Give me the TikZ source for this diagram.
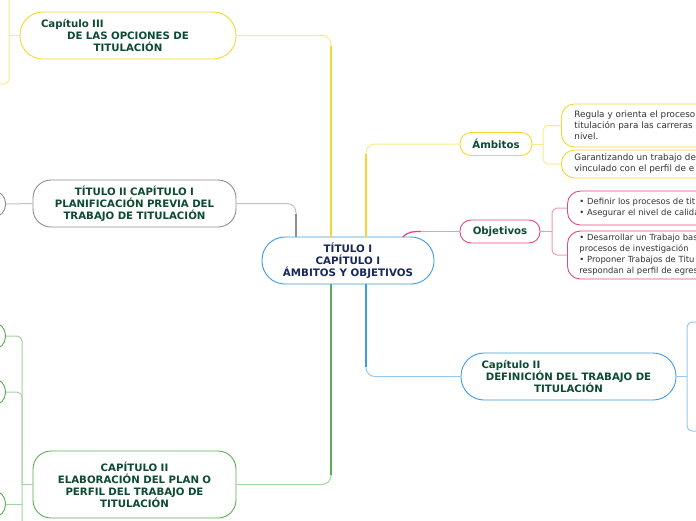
\documentclass[tikz,border=0pt]{standalone}
\usepackage{fontspec}
\setmainfont{DejaVu Sans}
\definecolor{topicgreen}{HTML}{0D4A30}
\definecolor{topicnavy}{HTML}{17295A}
\definecolor{leafgray}{HTML}{333333}
\definecolor{mapblue}{HTML}{3E9BE2}
\definecolor{mapyellow}{HTML}{F8D52F}
\definecolor{mapgray}{HTML}{8E8E8E}
\definecolor{mappink}{HTML}{E2497D}
\definecolor{mapgreen}{HTML}{5AAF55}
\tikzset{
    centraltopic/.style={
        draw=mapblue,
        fill=white,
        line width=0.9pt,
        rounded corners=23pt,
        minimum width=172pt,
        minimum height=47pt,
        align=center,
        text=topicnavy,
        font=\bfseries\fontsize{10.3}{12}\selectfont
    },
    chaptertopic/.style={
        fill=white,
        line width=0.9pt,
        rounded corners=23pt,
        minimum width=216pt,
        minimum height=47pt,
        text width=174pt,
        align=center,
        text=topicgreen,
        font=\bfseries\fontsize{10.2}{12}\selectfont
    },
    chapterbox/.style={
        chaptertopic,
        rounded corners=18pt,
        minimum width=203pt,
        text width=190pt
    },
    subtopic/.style={
        fill=white,
        line width=0.9pt,
        rounded corners=11pt,
        minimum height=23pt,
        text=topicgreen,
        font=\bfseries\fontsize{10.2}{12}\selectfont
    },
    leafbox/.style={
        anchor=west,
        fill=white,
        line width=0.9pt,
        rounded corners=13pt,
        text width=200pt,
        inner xsep=13pt,
        align=left,
        text=leafgray,
        font=\fontsize{8.8}{11}\selectfont
    },
    stubnode/.style={
        anchor=east,
        fill=white,
        line width=0.9pt,
        rounded corners=13pt,
        minimum width=40pt,
        minimum height=27pt
    },
    branchthin/.style={
        draw=#1!55,
        line width=1pt,
        rounded corners=9pt
    },
    branchthick/.style={
        draw=#1,
        line width=2.4pt
    }
}

\begin{document}
\begin{tikzpicture}[x=1pt,y=-1pt]
        \useasboundingbox (0,0) rectangle (696,520);

        % main topics
        \node[centraltopic] (center) at (348,260.5)
            {TÍTULO I\\CAPÍTULO I\\ÁMBITOS Y OBJETIVOS};
        \node[chaptertopic,draw=mapyellow] (opciones) at (128,35.5)
            {\makebox[174pt][l]{Capítulo III}\\DE LAS OPCIONES DE\\TITULACIÓN};
        \node[chapterbox,draw=mapgray] (previa) at (134.5,203.5)
            {TÍTULO II CAPÍTULO I\\PLANIFICACIÓN PREVIA DEL\\TRABAJO DE TITULACIÓN};
        \node[chapterbox,draw=mapgreen,minimum height=67pt] (elaboracion) at (134.5,484.5)
            {CAPÍTULO II\\ELABORACIÓN DEL PLAN O\\PERFIL DEL TRABAJO DE\\TITULACIÓN};
        \node[chaptertopic,draw=mapblue,minimum width=215pt] (definicion) at (568.5,376.5)
            {\makebox[174pt][l]{Capítulo II}\\DEFINICIÓN DEL TRABAJO DE\\TITULACIÓN};
        \node[subtopic,draw=mapyellow,minimum width=72pt] (ambitos) at (496,144) {Ámbitos};
        \node[subtopic,draw=mappink,minimum width=80pt] (objetivos) at (500,231.5) {Objetivos};

        % leaves, cut by the page edge as in the map
        \node[leafbox,draw=mapyellow,minimum height=43pt] (regula) at (561,125.5)
            {Regula y orienta el proceso\\titulación para las carreras\\nivel.};
        \node[leafbox,draw=mapyellow,minimum height=28pt] (garantiza) at (561,164)
            {Garantizando un trabajo de\\vinculado con el perfil de e};
        \node[leafbox,draw=mappink,minimum height=34pt,inner xsep=12pt,font=\fontsize{8.4}{11}\selectfont] (definir) at (567,208)
            {• Definir los procesos de tit\\• Asegurar el nivel de calida};
        \node[leafbox,draw=mappink,minimum height=48pt,inner xsep=12pt,font=\fontsize{8.4}{11}\selectfont] (desarrollar) at (567,255)
            {• Desarrollar un Trabajo bas\\procesos de investigación\\• Proponer Trabajos de Titu\\respondan al perfil de egres};

        % stubs cut by the page edge
        \node[stubnode,draw=mapgray] (previaleft) at (6,204) {};
        \node[stubnode,draw=mapgreen] (elabA) at (6,336) {};
        \node[stubnode,draw=mapgreen] (elabB) at (6,392) {};
        \node[stubnode,draw=mapgreen] (elabC) at (6,504) {};

        % turning points
        \coordinate (opcturn) at (331,35.5);
        \coordinate (prevturn) at (296,203.5);
        \coordinate (ambturn) at (366,144);
        \coordinate (objturn) at (421,231.5);
        \coordinate (defturn) at (366,376.5);
        \coordinate (elabturn) at (331,484.5);

        % branches to the center
        \draw[branchthin=mapyellow] (opciones.east) -- (opcturn) -- (opcturn |- center.north);
        \draw[branchthick=mapyellow] (opcturn |- center.north) -- ([yshift=-10pt]opcturn);
        \draw[branchthin=mapgray] (previa.east) -- (prevturn) -- (prevturn |- center.north);
        \draw[branchthick=mapgray] (prevturn |- center.north) -- ([yshift=-10pt]prevturn);
        \draw[branchthin=mapyellow] (ambitos.west) -- (ambturn) -- (ambturn |- center.north);
        \draw[branchthick=mapyellow] (ambturn |- center.north) -- ([yshift=-10pt]ambturn);
        \draw[draw=mappink,line width=1.3pt] ([xshift=55pt,yshift=-0.5pt]center.north)
            to[out=50,in=180] (objturn);
        \draw[branchthin=mappink] (objturn) -- (objetivos.west);
        \draw[branchthin=mapblue] (definicion.west) -- (defturn) -- (defturn |- center.south);
        \draw[branchthick=mapblue] (defturn |- center.south) -- ([yshift=10pt]defturn);
        \draw[branchthin=mapgreen] (elaboracion.east) -- (elabturn) -- (elabturn |- center.south);
        \draw[branchthick=mapgreen] (elabturn |- center.south) -- ([yshift=10pt]elabturn);

        % brackets to the leaves
        \coordinate (ambbr) at (543,144);
        \draw[branchthin=mapyellow] (ambitos.east) -- (ambbr);
        \draw[branchthin=mapyellow,rounded corners=5pt] (regula.west) -| (ambbr) |- (garantiza.west);
        \coordinate (objbr) at (552,231.5);
        \draw[branchthin=mappink] (objetivos.east) -- (objbr);
        \draw[branchthin=mappink,rounded corners=5pt] (definir.west) -| (objbr) |- (desarrollar.west);
        \coordinate (defbr) at (687,376.5);
        \coordinate (defup) at (700,322);
        \coordinate (deflow) at (700,431);
        \draw[branchthin=mapblue] (definicion.east) -- (defbr);
        \draw[branchthin=mapblue,rounded corners=5pt] (defup) -| (defbr) |- (deflow);
        \coordinate (opcbr) at (9,35.5);
        \coordinate (opctop) at (9,-5);
        \coordinate (opclow) at (-5,84);
        \draw[branchthin=mapyellow] (opciones.west) -- (opcbr);
        \draw[branchthin=mapyellow,rounded corners=5pt] (opctop) |- (opclow);
        \draw[branchthin=mapgray] (previa.west) -- (previaleft.east);
        \coordinate (elabbr) at (22,484.5);
        \coordinate (elabend) at (22,525);
        \draw[branchthin=mapgreen] (elaboracion.west) -- (elabbr);
        \draw[branchthin=mapgreen,rounded corners=5pt] (elabA.east) -| (elabend);
        \draw[branchthin=mapgreen,rounded corners=5pt] (elabB.east) -| (elabbr);
        \draw[branchthin=mapgreen] (elabC.east) -- (elabC.east -| elabbr);
\end{tikzpicture}
\end{document}
